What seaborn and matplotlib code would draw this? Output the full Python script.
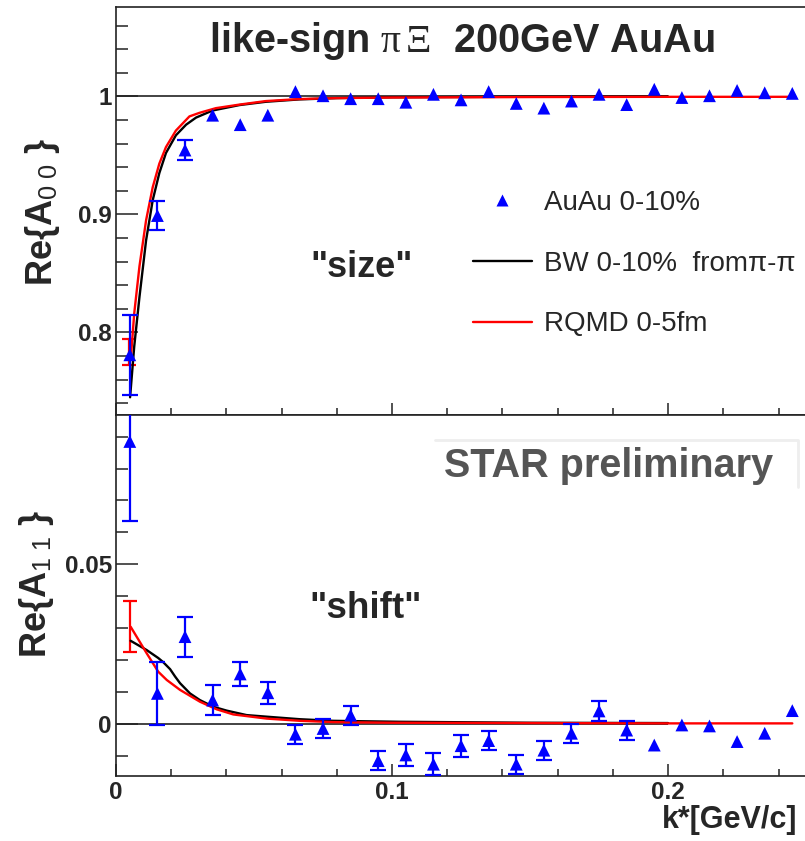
import numpy as np
import pandas as pd
import seaborn as sns
import matplotlib.pyplot as plt
from matplotlib.ticker import MultipleLocator, FuncFormatter
from matplotlib.lines import Line2D

# measured points (bin centres in k*)
k = [0.005, 0.015, 0.025, 0.035, 0.045, 0.055, 0.065, 0.075, 0.085, 0.095,
     0.105, 0.115, 0.125, 0.135, 0.145, 0.155, 0.165, 0.175, 0.185, 0.195,
     0.205, 0.215, 0.225, 0.235, 0.245]

a00 = [0.781, 0.899, 0.9545, 0.984, 0.976, 0.984, 1.004, 1.0005, 0.998, 0.998,
       0.995, 1.0017, 0.997, 1.004, 0.994, 0.990, 0.996, 1.0017, 0.993, 1.006,
       0.999, 1.0005, 1.005, 1.003, 1.0025]
# errors hidden under the markers are left at 0
a00_err = [0.034, 0.0125, 0.0085, 0, 0, 0, 0, 0, 0, 0,
           0, 0, 0, 0, 0, 0, 0, 0, 0, 0,
           0, 0, 0, 0, 0]

a11 = [0.0885, 0.0095, 0.0273, 0.0074, 0.0156, 0.0097, -0.0033, -0.0015, 0.0027, -0.0116,
       -0.0098, -0.0127, -0.0069, -0.0053, -0.0127, -0.0083, -0.003, 0.004, -0.002, -0.0067,
       -0.0004, -0.0007, -0.0056, -0.003, 0.0041]
a11_err = [0.025, 0.010, 0.0063, 0.0047, 0.0038, 0.0034, 0.003, 0.003, 0.003, 0.003,
           0.0034, 0.0034, 0.0034, 0.003, 0.003, 0.003, 0.003, 0.003, 0.003, 0,
           0, 0, 0, 0, 0]

# model curves
bw_k00 = [0.0051, 0.0066, 0.0085, 0.0109, 0.0133, 0.0157, 0.0181, 0.0217, 0.0254, 0.029,
          0.035, 0.0447, 0.0543, 0.0664, 0.08, 0.1, 0.15, 0.2]
bw_a00 = [0.745, 0.788, 0.830, 0.878, 0.912, 0.935, 0.952, 0.967, 0.976, 0.982,
          0.988, 0.9926, 0.9954, 0.9974, 0.9985, 0.9992, 0.9997, 0.9999]
rq_k00 = [0.0054, 0.0066, 0.0085, 0.0109, 0.0133, 0.0157, 0.0181, 0.0217, 0.0266, 0.0302,
          0.0362, 0.0447, 0.0543, 0.0664, 0.08, 0.1, 0.15, 0.2, 0.245]
rq_a00 = [0.779, 0.816, 0.856, 0.895, 0.923, 0.943, 0.957, 0.971, 0.983, 0.986,
          0.990, 0.993, 0.996, 0.9977, 0.9985, 0.999, 0.9994, 0.9996, 0.9996]

bw_k11 = [0.0053, 0.0111, 0.0153, 0.0171, 0.0196, 0.0214, 0.0232, 0.0268, 0.0304, 0.0353,
          0.0401, 0.0473, 0.0546, 0.0667, 0.0787, 0.1029, 0.15, 0.2]
bw_a11 = [0.0260, 0.0231, 0.0206, 0.0193, 0.0171, 0.0148, 0.0127, 0.0095, 0.0074, 0.0053,
          0.0041, 0.0027, 0.0022, 0.0014, 0.0009, 0.0006, 0.0003, 0.0002]
rq_k11 = [0.0053, 0.0111, 0.0153, 0.0184, 0.0232, 0.0304, 0.0365, 0.0425, 0.0546, 0.0667,
          0.0787, 0.1, 0.15, 0.2, 0.245]
rq_a11 = [0.0304, 0.0221, 0.0163, 0.0137, 0.0106, 0.0069, 0.0045, 0.0029, 0.0016, 0.0009,
          0.0005, 0.0003, 0.0002, 0.0001, 0.0001]

# RQMD error at the first bin
rq_err_k = [0.0048, 0.005]
rq_err_val = [0.783, 0.0305]
rq_err = [0.011, 0.0081]

sns.set_style("ticks", {"xtick.direction": "in", "ytick.direction": "in"})
plt.rcParams['font.family'] = ['Liberation Sans', 'DejaVu Sans']
plt.rcParams['mathtext.fontset'] = 'custom'
plt.rcParams['mathtext.rm'] = 'Liberation Serif'
plt.rcParams['mathtext.it'] = 'Liberation Serif'
plt.rcParams['mathtext.sf'] = 'Liberation Sans'

blue = '#0000ff'
red = '#ff0000'

fig = plt.figure(figsize=(8.05, 8.41), dpi=100)
W, H = 805, 841
ax1 = fig.add_axes([116 / W, 1 - 415 / H, 689 / W, 408 / H])
ax2 = fig.add_axes([116 / W, 1 - 776 / H, 689 / W, 361 / H])

fmt = FuncFormatter(lambda v, p: '%g' % round(v, 4))
for ax in (ax1, ax2):
    ax.set_xlim(0, 0.2496)
    ax.xaxis.set_major_locator(MultipleLocator(0.1))
    ax.xaxis.set_minor_locator(MultipleLocator(0.02))
    ax.spines['right'].set_visible(False)
    for s in ('left', 'top', 'bottom'):
        ax.spines[s].set_linewidth(1.2)
        ax.spines[s].set_color('#222222')
    ax.tick_params(axis='x', which='major', length=8.6, width=1.1, color='#222222')
    ax.tick_params(axis='x', which='minor', length=4.7, width=1.1, color='#222222')
    ax.tick_params(axis='y', which='major', length=15.5, width=1.1, color='#222222', pad=3)
    ax.tick_params(axis='y', which='minor', length=8.8, width=1.1, color='#222222')
    ax.yaxis.set_major_formatter(fmt)
    ax.xaxis.set_major_formatter(fmt)
    ax.tick_params(labelsize=17.5)


def draw_errors(ax, xs, ys, errs):
    keep = [i for i, e in enumerate(errs) if e > 0]
    ax.errorbar([xs[i] for i in keep], [ys[i] for i in keep], yerr=[errs[i] for i in keep],
                fmt='none', ecolor=blue, elinewidth=1.6, capsize=5.5, capthick=1.6, zorder=4)


# ---- top panel: Re{A00}
ax1.set_ylim(0.730, 1.0757)
ax1.yaxis.set_major_locator(MultipleLocator(0.1))
ax1.yaxis.set_minor_locator(MultipleLocator(0.02))
ax1.tick_params(axis='x', labelbottom=False)
ax1.hlines(1, 0, 0.2, color='#222222', lw=1.2, zorder=1)
sns.lineplot(x=bw_k00, y=bw_a00, color='black', lw=1.7, sort=False, estimator=None, ax=ax1, zorder=3)
sns.lineplot(x=rq_k00, y=rq_a00, color=red, lw=1.7, sort=False, estimator=None, ax=ax1, zorder=3)
ax1.errorbar(rq_err_k[:1], rq_err_val[:1], yerr=rq_err[:1], fmt='none', ecolor=red,
             elinewidth=1.6, capsize=5, capthick=1.6, zorder=2)
draw_errors(ax1, k, a00, a00_err)
sns.scatterplot(x=k, y=a00, marker='^', s=85, color=blue, edgecolor='none', ax=ax1, zorder=5)

ax1.text(0.502, 0.890, r'like-sign $\pi\,\Xi$  200GeV AuAu', transform=ax1.transAxes,
         ha='center', va='baseline', fontsize=28.5, fontweight='bold')
ax1.text(0.356, 0.338, '"size"', transform=ax1.transAxes, ha='center', va='baseline',
         fontsize=26, fontweight='bold')

handles = [Line2D([], [], ls='none', marker='^', ms=9.2, color=blue, mec='none'),
           Line2D([], [], color='black', lw=1.7),
           Line2D([], [], color=red, lw=1.7)]
labels = ['AuAu 0-10%', 'BW 0-10%  from\u03c0-\u03c0', 'RQMD 0-5fm']
ax1.legend(handles, labels, loc='center left', bbox_to_anchor=(0.518, 0.371),
           frameon=False, fontsize=20, handlelength=2.12, handletextpad=0.43,
           labelspacing=1.25, borderpad=0, borderaxespad=0)

# ---- bottom panel: Re{A11}
ax2.set_ylim(-0.0164, 0.0968)
ax2.yaxis.set_major_locator(MultipleLocator(0.05))
ax2.yaxis.set_minor_locator(MultipleLocator(0.01))
ax2.hlines(0, 0, 0.2, color='#222222', lw=1.2, zorder=1)
sns.lineplot(x=bw_k11, y=bw_a11, color='black', lw=1.7, sort=False, estimator=None, ax=ax2, zorder=3)
sns.lineplot(x=rq_k11, y=rq_a11, color=red, lw=1.7, sort=False, estimator=None, ax=ax2, zorder=3)
ax2.errorbar(rq_err_k[1:], rq_err_val[1:], yerr=rq_err[1:], fmt='none', ecolor=red,
             elinewidth=1.6, capsize=5, capthick=1.6, zorder=2)
draw_errors(ax2, k, a11, a11_err)
sns.scatterplot(x=k, y=a11, marker='^', s=85, color=blue, edgecolor='none', ax=ax2, zorder=5)

for ax in (ax1, ax2):
    ax.set_xlabel('')
    ax.set_ylabel('')
    for lab in ax.get_xticklabels() + ax.get_yticklabels():
        lab.set_fontweight('bold')

ax2.text(0.363, 0.438, '"shift"', transform=ax2.transAxes, ha='center', va='baseline',
         fontsize=26.5, fontweight='bold')
ax2.text(0.715, 0.828, 'STAR preliminary', transform=ax2.transAxes, ha='center',
         va='baseline', fontsize=28.5, fontweight='bold', color='#555555')
ax2.plot([0.463, 0.990, 0.990], [0.931, 0.931, 0.80], transform=ax2.transAxes,
         color='#eeeeee', lw=2, clip_on=False)

# axis titles
fig.text(42 / W, 1 - 212 / H, r'Re{A$_{\mathsf{0\ 0}}$ }', rotation=90, ha='center',
         va='center', fontsize=26, fontweight='bold')
fig.text(36 / W, 1 - 584 / H, r'Re{A$_{\mathsf{1\ 1}}$ }', rotation=90, ha='center',
         va='center', fontsize=26, fontweight='bold')
fig.text(797 / W, 1 - 828 / H, 'k*[GeV/c]', ha='right', va='baseline',
         fontsize=22, fontweight='bold')

fig.savefig('out.png', dpi=100)
